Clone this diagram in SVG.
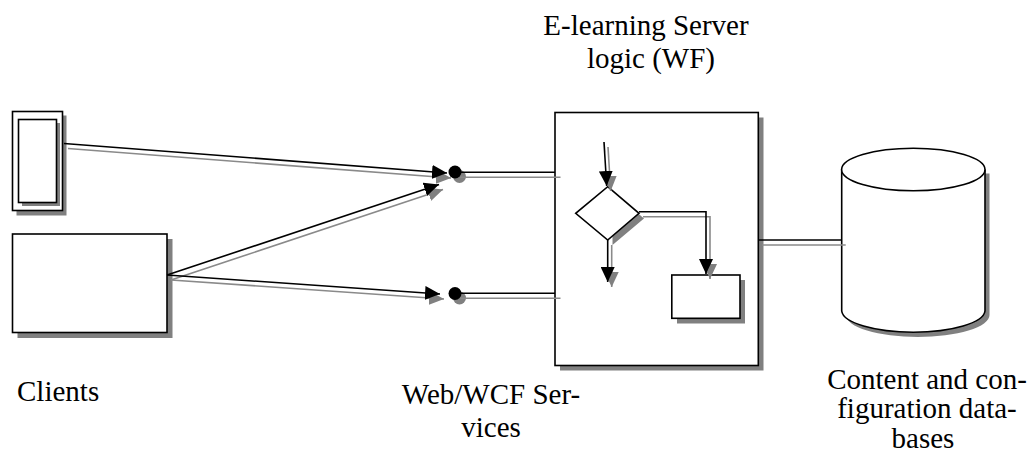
<svg xmlns="http://www.w3.org/2000/svg" width="1033" height="461" viewBox="0 0 1033 461">
<style>
.s{fill:#808080;stroke:none}
.b{fill:#fff;stroke:#000;stroke-width:1.6}
.ln{fill:none;stroke:#000;stroke-width:1.6}
.lg{fill:none;stroke:#8a8a8a;stroke-width:1.6}
.t{font-family:"Liberation Serif","Times New Roman",serif;font-size:29px;fill:#000}
</style>
<defs>
<marker id="ab" markerWidth="16" markerHeight="14" refX="15" refY="7" orient="auto" markerUnits="userSpaceOnUse"><path d="M0,0 L15,7 L0,14 Z" fill="#000"/></marker>
<marker id="ag" markerWidth="16" markerHeight="14" refX="15" refY="7" orient="auto" markerUnits="userSpaceOnUse"><path d="M0,0 L15,7 L0,14 Z" fill="#808080"/></marker>
</defs>
<rect width="1033" height="461" fill="#fff"/>

<g id="client-device">
<rect class="s" x="16.5" y="115.5" width="50" height="100"/>
<rect class="b" x="12.5" y="111.5" width="50" height="99"/>
<rect class="s" x="22" y="123" width="38" height="83"/>
<rect class="b" x="18.5" y="119.5" width="38" height="83"/>
</g>

<g id="client-pc">
<rect class="s" x="17.5" y="239" width="155" height="99"/>
<rect class="b" x="12.5" y="234" width="154.5" height="98.5"/>
</g>

<g id="server">
<rect class="s" x="560" y="117.5" width="203.5" height="253"/>
<rect class="b" x="555" y="112.5" width="203.3" height="253"/>
<rect class="s" x="677" y="280" width="68" height="43.5"/>
<rect class="b" x="671.8" y="275" width="68.2" height="43.3"/>
<path class="s" d="M612.5,191.5 L644,218.5 L612.5,245 Z"/>
<path class="b" d="M607.7,186.7 L639,213.3 L607.7,240 L575.7,213.3 Z"/>
</g>

<g id="database">
<path class="s" d="M989.5,173.5 L989.5,315 A71.7,22 0 0 1 846,315 L846,173.5 Z"/>
<path class="b" d="M841.7,169.5 L841.7,311 A71.7,22 0 0 0 985,311 L985,169.5"/>
<ellipse class="b" cx="913.3" cy="169.5" rx="71.7" ry="21.3"/>
</g>

<g id="service-1">
<circle class="s" cx="459.5" cy="176.5" r="6.5"/>
<circle cx="455" cy="172" r="6.5" fill="#000"/>
</g>
<g id="service-2">
<circle class="s" cx="459.5" cy="298" r="6.5"/>
<circle cx="455" cy="293.5" r="6.5" fill="#000"/>
</g>

<g id="connectors">
<!-- shadows -->
<g transform="translate(4,5)">
<line class="lg" x1="64" y1="143.5" x2="447" y2="173" marker-end="url(#ag)"/>
<line class="lg" x1="167" y1="275" x2="439" y2="184.5" marker-end="url(#ag)"/>
<line class="lg" x1="167" y1="275" x2="440" y2="294" marker-end="url(#ag)"/>
<line class="lg" x1="456" y1="172.3" x2="556.5" y2="172.3"/>
<line class="lg" x1="456" y1="293.3" x2="556.5" y2="293.3"/>
<line class="lg" x1="604" y1="142" x2="606.7" y2="186" marker-end="url(#ag)"/>
<line class="lg" x1="607.7" y1="240" x2="607.7" y2="282" marker-end="url(#ag)"/>
<path class="lg" d="M639,211.7 L706,211.7 L706,274" marker-end="url(#ag)"/>
<line class="lg" x1="758" y1="240" x2="841.7" y2="240"/>
</g>
<line class="ln" x1="64" y1="143.5" x2="447" y2="173" marker-end="url(#ab)"/>
<line class="ln" x1="167" y1="275" x2="439" y2="184.5" marker-end="url(#ab)"/>
<line class="ln" x1="167" y1="275" x2="440" y2="294" marker-end="url(#ab)"/>
<line class="ln" x1="456" y1="172.3" x2="555" y2="172.3"/>
<line class="ln" x1="456" y1="293.3" x2="555" y2="293.3"/>
<line class="ln" x1="604" y1="142" x2="606.7" y2="186" marker-end="url(#ab)"/>
<line class="ln" x1="607.7" y1="240" x2="607.7" y2="282" marker-end="url(#ab)"/>
<path class="ln" d="M639,211.7 L706,211.7 L706,274" marker-end="url(#ab)"/>
<line class="ln" x1="758.3" y1="240" x2="841.7" y2="240"/>
</g>

<g id="labels">
<text class="t" x="17" y="401">Clients</text>
<text class="t" x="491" y="404" text-anchor="middle">Web/WCF Ser-</text>
<text class="t" x="491" y="437" text-anchor="middle">vices</text>
<text class="t" x="646" y="35" text-anchor="middle">E-learning Server</text>
<text class="t" x="651" y="68" text-anchor="middle">logic (WF)</text>
<text class="t" x="927" y="389" text-anchor="middle">Content and con-</text>
<text class="t" x="927" y="418" text-anchor="middle">figuration data-</text>
<text class="t" x="923" y="448" text-anchor="middle">bases</text>
</g>
</svg>
